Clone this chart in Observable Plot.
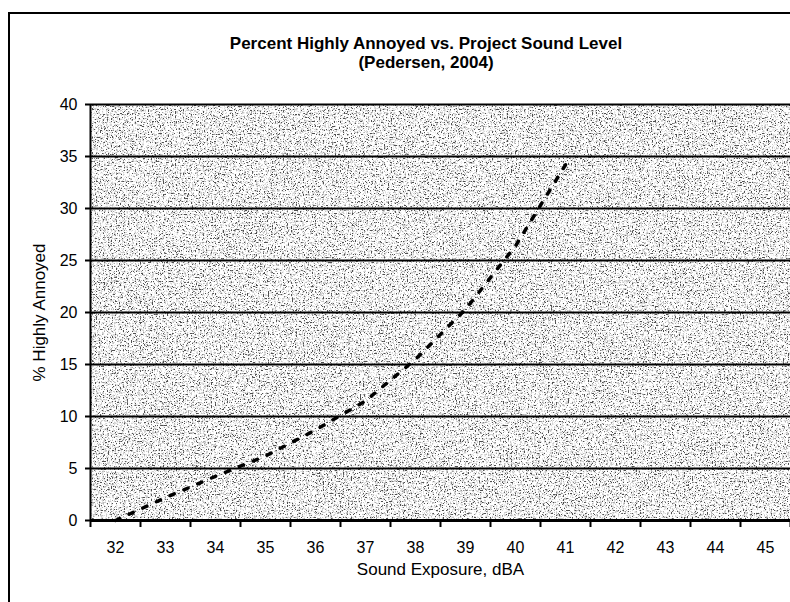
<!DOCTYPE html>
<html>
<head>
<meta charset="utf-8">
<script src="https://cdn.jsdelivr.net/npm/d3@7"></script>
<script src="https://cdn.jsdelivr.net/npm/@observablehq/plot@0.6"></script>
<style>
  html, body { margin: 0; padding: 0; background: #fff; overflow: hidden; }
  #page { position: relative; width: 790px; height: 602px; font-family: "Liberation Sans", Arial, sans-serif; color: #000; }
  #frame { position: absolute; left: 8px; top: 12px; width: 800px; height: 600px; border-left: 2px solid #000; border-top: 2px solid #000; pointer-events: none; }
  #header { box-sizing: border-box; width: 790px; height: 90px; padding-top: 34px; padding-left: 62px; text-align: center; font-weight: bold; font-size: 17px; line-height: 19px; }
  #chart svg { display: block; }
</style>
</head>
<body>
<div id="page">
  <div id="frame"></div>
  <div id="header"><div id="title"></div><div id="subtitle"></div></div>
  <div id="chart"></div>
</div>
<script>
// ---- data ----
const titleText = "Percent Highly Annoyed vs. Project Sound Level";
const subtitleText = "(Pedersen, 2004)";
const xLabel = "Sound Exposure, dBA";
const yLabel = "% Highly Annoyed";
const categories = [32, 33, 34, 35, 36, 37, 38, 39, 40, 41, 42, 43, 44, 45];
const seriesX = [32, 33, 34, 35, 36, 37, 38, 39, 40, 41];
const seriesY = [0, 2.2, 4.25, 6.2, 8.7, 11.5, 15.5, 20.3, 26.4, 34.2];
const yTicks = [0, 5, 10, 15, 20, 25, 30, 35, 40];

document.getElementById("title").textContent = titleText;
document.getElementById("subtitle").textContent = subtitleText;

const data = seriesX.map((x, i) => ({x, y: seriesY[i]}));
const boundaries = [...categories.map(c => c - 0.5), categories[categories.length - 1] + 0.5];
const gridValues = yTicks.filter(v => v > 0);

const svg = Plot.plot({
  width: 790,
  height: 512,
  marginTop: 14,
  marginBottom: 82,
  marginLeft: 90,
  marginRight: 0,
  x: {type: "linear", domain: [boundaries[0], boundaries[boundaries.length - 1]]},
  y: {domain: [0, 40]},
  style: {fontFamily: "'Liberation Sans', Arial, sans-serif", fontSize: "16px", color: "#000", background: "transparent", overflow: "visible"},
  marks: [
    Plot.frame({fill: "#fff", stroke: null}),
    Plot.ruleY(gridValues, {stroke: "#000", strokeWidth: 2}),
    Plot.ruleY([0], {stroke: "#000", strokeWidth: 3}),
    Plot.ruleX([boundaries[0]], {stroke: "#000", strokeWidth: 2}),
    Plot.axisY({ticks: yTicks, tickSize: 5, tickPadding: 8, tickFormat: d => String(d), label: null, strokeWidth: 2}),
    Plot.axisX({ticks: boundaries, tickSize: 7, tickFormat: () => "", label: null, strokeWidth: 2}),
    Plot.axisX({ticks: categories, tickSize: 0, tickPadding: 21, tickFormat: d => String(d), label: null}),
    Plot.line(data, {x: "x", y: "y", stroke: "#000", strokeWidth: 3.5, strokeDasharray: "4.5,10.5"}),
    Plot.text([yLabel], {text: d => d, frameAnchor: "left", textAnchor: "middle", lineAnchor: "middle", dx: -51, rotate: -90, fontSize: 17}),
    Plot.text([xLabel], {text: d => d, frameAnchor: "bottom", textAnchor: "middle", lineAnchor: "middle", dy: 49, fontSize: 17})
  ]
});

// speckled background texture for the plot area
const defs = document.createElementNS("http://www.w3.org/2000/svg", "defs");
defs.innerHTML = `
  <filter id="speckle" filterUnits="objectBoundingBox" x="0" y="0" width="1" height="1">
    <feTurbulence type="fractalNoise" baseFrequency="0.5" numOctaves="2" seed="3" result="n2"/>
    <feColorMatrix in="n2" type="matrix" values="0 0 0 0 0.6  0 0 0 0 0.6  0 0 0 0 0.6  6 0 0 0 -3.15" result="gray"/>
    <feTurbulence type="fractalNoise" baseFrequency="0.75" numOctaves="2" seed="11" result="n1"/>
    <feColorMatrix in="n1" type="matrix" values="0 0 0 0 0.08  0 0 0 0 0.08  0 0 0 0 0.08  9 0 0 0 -5.2" result="black"/>
    <feFlood flood-color="#ffffff" result="bg"/>
    <feComposite in="gray" in2="bg" operator="over" result="g1"/>
    <feComposite in="black" in2="g1" operator="over"/>
  </filter>`;
svg.insertBefore(defs, svg.firstChild);
let fr = svg.querySelector('[aria-label="frame"]');
if (fr && fr.tagName.toLowerCase() !== "rect") fr = fr.querySelector("rect");
if (fr) fr.setAttribute("filter", "url(#speckle)");

document.getElementById("chart").appendChild(svg);
</script>
</body>
</html>
